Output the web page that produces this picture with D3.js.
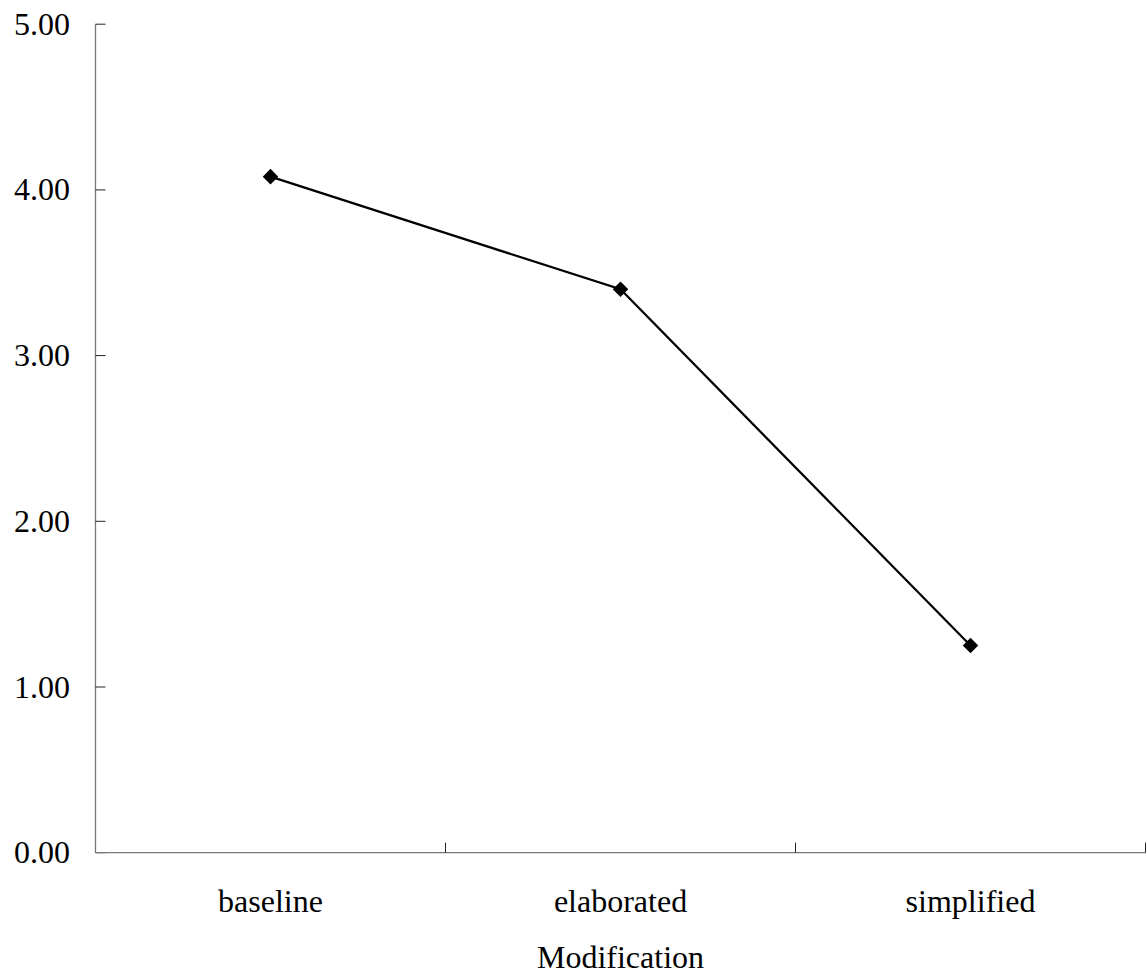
<html>
  <script src="https://d3js.org/d3.v7.min.js"></script>

  <style>
    body {
      margin: 0;
      background: white;
    }
    svg text {
      fill: black;
      font-family: "Liberation Serif", "Times New Roman", serif;
      font-size: 32px;
    }
  </style>

  <body onload="main()">
    <svg width="1147" height="979"></svg>

    <script>
      var categories = ["baseline", "elaborated", "simplified"];
      var values = [4.08, 3.4, 1.25];
      var yTicks = [0, 1, 2, 3, 4, 5];
      var xTitle = "Modification";

      function main() {
        var left = 95.5;
        var right = 1145.5;
        var top = 24.2;
        var bottom = 852.7;

        var svg = d3.select("svg");

        var x = d3.scaleBand().domain(categories).range([left, right]);
        var y = d3.scaleLinear().domain([0, 5]).range([bottom, top]);

        // y axis
        var yAxis = svg.append("g");
        yAxis
          .append("line")
          .attr("x1", left)
          .attr("x2", left)
          .attr("y1", y(5))
          .attr("y2", y(0))
          .attr("stroke", "#777")
          .attr("stroke-width", 1.3);
        yAxis
          .selectAll(".ytick")
          .data(yTicks)
          .enter()
          .append("line")
          .attr("x1", left)
          .attr("x2", left + 10)
          .attr("y1", function (d) { return y(d); })
          .attr("y2", function (d) { return y(d); })
          .attr("stroke", "#222")
          .attr("stroke-width", 1);
        yAxis
          .selectAll(".ylabel")
          .data(yTicks)
          .enter()
          .append("text")
          .attr("x", 70)
          .attr("y", function (d) { return y(d); })
          .attr("dy", "0.33em")
          .attr("text-anchor", "end")
          .text(function (d) { return d3.format(".2f")(d); });

        // x axis
        var xAxis = svg.append("g");
        xAxis
          .append("line")
          .attr("x1", left)
          .attr("x2", right)
          .attr("y1", bottom)
          .attr("y2", bottom)
          .attr("stroke", "#777")
          .attr("stroke-width", 1.3);
        xAxis
          .selectAll(".xtick")
          .data(categories)
          .enter()
          .append("line")
          .attr("x1", function (d) { return x(d) + x.bandwidth(); })
          .attr("x2", function (d) { return x(d) + x.bandwidth(); })
          .attr("y1", bottom)
          .attr("y2", bottom - 10)
          .attr("stroke", "#222")
          .attr("stroke-width", 1);
        xAxis
          .selectAll(".xlabel")
          .data(categories)
          .enter()
          .append("text")
          .attr("x", function (d) { return x(d) + x.bandwidth() / 2; })
          .attr("y", 911.5)
          .attr("text-anchor", "middle")
          .text(function (d) { return d; });

        svg
          .append("text")
          .attr("x", (left + right) / 2)
          .attr("y", 968)
          .attr("text-anchor", "middle")
          .text(xTitle);

        // line + markers
        var pts = categories.map(function (c, i) {
          return { c: c, v: values[i] };
        });

        var line = d3
          .line()
          .x(function (d) { return x(d.c) + x.bandwidth() / 2; })
          .y(function (d) { return y(d.v); });

        svg
          .append("path")
          .datum(pts)
          .attr("d", line)
          .attr("fill", "none")
          .attr("stroke", "black")
          .attr("stroke-width", 2.2);

        svg
          .selectAll(".marker")
          .data(pts)
          .enter()
          .append("rect")
          .attr("x", -5.5)
          .attr("y", -5.5)
          .attr("width", 11)
          .attr("height", 11)
          .attr("fill", "black")
          .attr("transform", function (d) {
            return (
              "translate(" + (x(d.c) + x.bandwidth() / 2) + "," + y(d.v) + ") rotate(45)"
            );
          });
      }
    </script>
  </body>
</html>
